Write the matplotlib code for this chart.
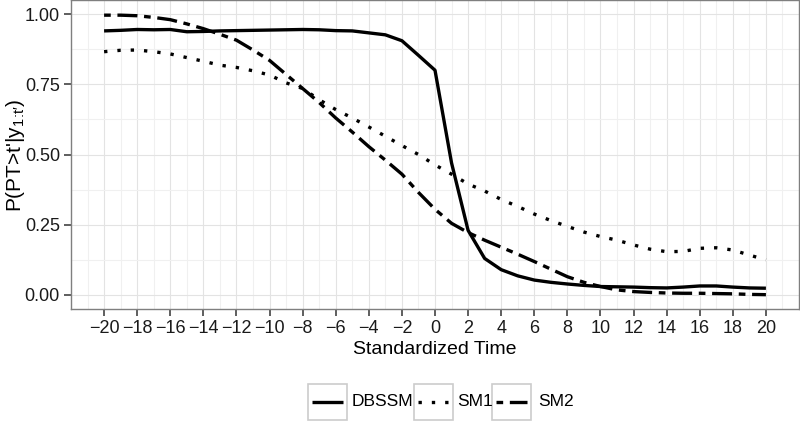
import numpy as np
import matplotlib
matplotlib.use("Agg")
import matplotlib.pyplot as plt
from matplotlib.patches import Rectangle
from matplotlib.lines import Line2D
from matplotlib.ticker import MultipleLocator, FormatStrFormatter

plt.rcParams["font.family"] = ["Liberation Sans", "DejaVu Sans"]
plt.rcParams["mathtext.fontset"] = "custom"
plt.rcParams["mathtext.rm"] = "Liberation Sans"
plt.rcParams["mathtext.it"] = "Liberation Sans"

# standardized time, -20 .. 20
t = np.arange(-20, 21)

dbssm = [0.940, 0.942, 0.945, 0.944, 0.945, 0.937, 0.938, 0.940, 0.941, 0.942,
         0.943, 0.944, 0.945, 0.944, 0.941, 0.940, 0.933, 0.926, 0.905, 0.853,
         0.800, 0.470, 0.230, 0.130, 0.090, 0.068, 0.053, 0.045, 0.039, 0.034,
         0.030, 0.029, 0.028, 0.026, 0.025, 0.028, 0.032, 0.032, 0.028, 0.025,
         0.024]
sm1 = [0.866, 0.871, 0.872, 0.866, 0.858, 0.845, 0.832, 0.818, 0.810, 0.798,
       0.783, 0.755, 0.735, 0.695, 0.660, 0.630, 0.598, 0.565, 0.532, 0.500,
       0.463, 0.430, 0.395, 0.370, 0.340, 0.315, 0.288, 0.265, 0.244, 0.224,
       0.208, 0.195, 0.178, 0.163, 0.154, 0.155, 0.166, 0.168, 0.160, 0.142,
       0.125]
sm2 = [0.996, 0.996, 0.994, 0.988, 0.980, 0.965, 0.948, 0.928, 0.907, 0.872,
       0.835, 0.785, 0.735, 0.685, 0.630, 0.580, 0.528, 0.480, 0.430, 0.365,
       0.305, 0.255, 0.222, 0.195, 0.170, 0.145, 0.119, 0.092, 0.065, 0.045,
       0.030, 0.018, 0.012, 0.009, 0.007, 0.006, 0.006, 0.005, 0.004, 0.002,
       0.001]
xticks = np.arange(-20, 21, 2)

series = [("DBSSM", dbssm, "-"),
          ("SM1", sm1, (0, (1, 3))),
          ("SM2", sm2, (0, (2, 2, 6, 2)))]
LW = 2.4

W, H = 800, 423
fig = plt.figure(figsize=(W / 100, H / 100), dpi=100)
ax = fig.add_axes([71 / W, 1 - 309 / H, (799 - 71) / W, 309 / H])

for name, vals, ls in series:
    ax.plot(t, vals, color="black", lw=LW, linestyle=ls, solid_capstyle="butt")

ax.set_xlim(-22, 22)
ax.set_ylim(-0.05, 1.05)
ax.set_xticks(xticks)
ax.xaxis.set_minor_locator(MultipleLocator(1))
ax.yaxis.set_major_locator(MultipleLocator(0.25))
ax.yaxis.set_minor_locator(MultipleLocator(0.125))
ax.yaxis.set_major_formatter(FormatStrFormatter("%.2f"))
ax.set_axisbelow(True)
ax.grid(which="major", color="#e3e3e3", lw=0.8)
ax.grid(which="minor", color="#f0f0f0", lw=0.8)
for s in ax.spines.values():
    s.set_color("#7f7f7f")
    s.set_linewidth(1.0)
ax.tick_params(which="major", length=5, width=1.1, color="#333333",
               labelsize=13, labelcolor="#1a1a1a", pad=3)
ax.tick_params(which="minor", length=0)

fig.text(435 / W, 1 - 349 / H, "Standardized Time", ha="center", va="center", fontsize=14)
ylab = "P(PT>t'|y$_{1\\!:\\!t\u2032}$)"
fig.text(16 / W, 1 - 155 / H, ylab, ha="center", va="center",
         rotation=90, fontsize=15)

# legend with boxed keys, drawn in pixel space
lax = fig.add_axes([0, 0, 1, 1], facecolor="none")
lax.set_xlim(0, W)
lax.set_ylim(H, 0)
lax.axis("off")
boxes = [(308, 352), (414, 457), (492, 538)]
for (bx, tx), (name, vals, ls) in zip(boxes, series):
    lax.add_patch(Rectangle((bx, 384), 39, 36, fill=False, ec="#cccccc", lw=1.2))
    lax.add_line(Line2D([bx + 4, bx + 35], [402, 402], color="black", lw=LW,
                        linestyle=ls, solid_capstyle="butt"))
    lax.text(tx, 402, name, ha="left", va="center", fontsize=12.5)

fig.savefig("out.png", dpi=100)
